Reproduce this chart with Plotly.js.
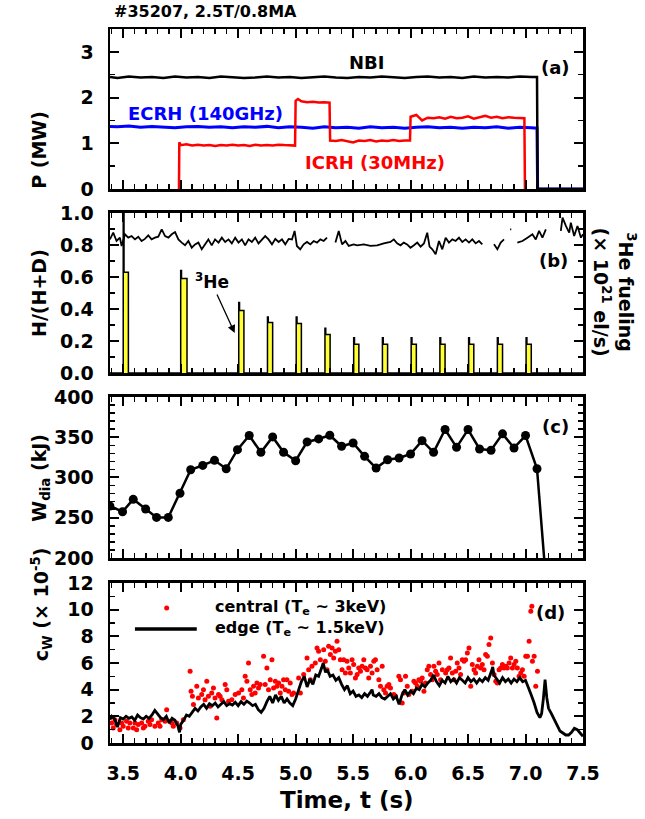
<!DOCTYPE html>
<html>
<head>
<meta charset="utf-8">
<script src="https://cdn.plot.ly/plotly-3.0.1.min.js"></script>
<style>
  html, body { margin: 0; padding: 0; background: #fff; }
  #chart { width: 645px; height: 819px; }
</style>
</head>
<body>
<div id="chart"></div>
<script>
// 4단 패널: (a) 가열 파워, (b) H/(H+D) + 3He 주입, (c) W_dia, (d) c_W
// 값은 그림에서 눈으로 읽은 것 (시간 s).

// ── (a) 가열 파워 (MW) ──
const nbiT = [3.385, 3.45, 3.55, 3.65, 3.75, 3.85, 3.95, 4.05, 4.15, 4.25,
              4.35, 4.45, 4.55, 4.65, 4.75, 4.85, 4.95, 5.05, 5.15, 5.25,
              5.35, 5.45, 5.55, 5.65, 5.75, 5.85, 5.95, 6.05, 6.15, 6.25,
              6.35, 6.45, 6.55, 6.65, 6.75, 6.85, 6.95, 7.05, 7.10, 7.105, 7.5];
const nbiP = [2.45, 2.43, 2.46, 2.44, 2.45, 2.43, 2.46, 2.44, 2.45, 2.43,
              2.46, 2.45, 2.43, 2.44, 2.46, 2.44, 2.45, 2.43, 2.45, 2.46,
              2.44, 2.43, 2.45, 2.44, 2.46, 2.45, 2.43, 2.45, 2.46, 2.44,
              2.45, 2.43, 2.46, 2.44, 2.45, 2.44, 2.46, 2.45, 2.45, 0, 0];

const ecrhT = [3.385, 3.45, 3.55, 3.65, 3.75, 3.85, 3.95, 4.05, 4.15, 4.25,
               4.35, 4.45, 4.55, 4.65, 4.75, 4.85, 4.95, 5.05, 5.15, 5.25,
               5.35, 5.45, 5.55, 5.65, 5.75, 5.85, 5.95, 6.05, 6.15, 6.25,
               6.35, 6.45, 6.55, 6.65, 6.75, 6.85, 6.95, 7.05, 7.10, 7.105, 7.5];
const ecrhP = [1.37, 1.36, 1.38, 1.35, 1.37, 1.36, 1.34, 1.36, 1.37, 1.35,
               1.36, 1.34, 1.36, 1.35, 1.37, 1.34, 1.36, 1.35, 1.33, 1.36,
               1.34, 1.35, 1.33, 1.36, 1.34, 1.35, 1.33, 1.35, 1.36, 1.34,
               1.35, 1.33, 1.35, 1.34, 1.36, 1.33, 1.35, 1.34, 1.33, 0, 0];

const icrhT = [3.985, 3.988, 4.00, 4.05, 4.10, 4.15, 4.20, 4.25, 4.30,
               4.35, 4.40, 4.45, 4.50, 4.55, 4.60, 4.65, 4.70, 4.75, 4.80,
               4.85, 4.90, 4.95, 4.995, 5.00, 5.02, 5.05, 5.10, 5.15, 5.20,
               5.25, 5.295, 5.30, 5.35, 5.40, 5.45, 5.50, 5.55, 5.60, 5.65,
               5.70, 5.75, 5.80, 5.85, 5.90, 5.95, 5.995, 6.00, 6.05, 6.10,
               6.15, 6.20, 6.25, 6.30, 6.35, 6.40, 6.45, 6.50, 6.55, 6.60,
               6.65, 6.70, 6.75, 6.80, 6.85, 6.90, 6.95, 6.99, 6.995];
const icrhP = [0, 1.02, 0.96, 0.98, 0.95, 0.97, 0.95, 0.96, 0.94,
               0.96, 0.95, 0.97, 0.95, 0.96, 0.94, 0.97, 0.95, 0.96, 0.95,
               0.97, 0.96, 0.95, 0.95, 1.93, 1.97, 1.92, 1.90, 1.91, 1.89,
               1.90, 1.89, 1.06, 1.05, 1.07, 1.04, 1.02, 1.06, 1.05, 1.07,
               1.04, 1.06, 1.05, 1.07, 1.05, 1.06, 1.06, 1.58, 1.62, 1.50,
               1.56, 1.55, 1.57, 1.54, 1.58, 1.55, 1.56, 1.59, 1.54, 1.57,
               1.60, 1.56, 1.58, 1.55, 1.57, 1.56, 1.55, 1.55, 0];

// ── (b) H/(H+D) (null = 데이터 끊김) ──
const hdT = [3.384, 3.413, 3.442, 3.471, 3.486, 3.515, 3.544, 3.573, 3.602, 3.631,
             3.660, 3.689, 3.718, 3.747, 3.776, 3.805, 3.835, 3.864, 3.893, 3.922,
             3.951, 3.980, 4.009, 4.038, 4.067, 4.096, 4.125, 4.154, 4.183, 4.212,
             4.241, 4.270, 4.299, 4.329, 4.358, 4.387, 4.416, 4.445, 4.474, 4.503,
             4.532, 4.561, 4.590, 4.619, 4.648, 4.677, 4.706, 4.735, 4.764, 4.794,
             4.823, 4.852, 4.881, 4.910, 4.939, 4.968, 4.991, 5.011, 5.040, 5.070,
             5.099, 5.128, 5.157, 5.186, 5.215, 5.244, 5.273, 5.300, 5.346, 5.375,
             5.404, 5.433, 5.462, 5.505, 5.535, 5.593, 5.651, 5.709, 5.767, 5.825,
             5.854, 5.883, 5.912, 5.941, 5.970, 5.999, 6.029, 6.058, 6.087, 6.116,
             6.145, 6.165, 6.189, 6.218, 6.247, 6.276, 6.305, 6.334, 6.363, 6.392,
             6.421, 6.450, 6.479, 6.508, 6.537, 6.566, 6.595, 6.624, 6.670, 6.726,
             6.755, 6.784, 6.813, 6.840, 6.866, 6.876, 6.900, 6.929, 6.973, 7.017,
             7.060, 7.089, 7.118, 7.147, 7.177, 7.230, 7.307, 7.322, 7.351, 7.380,
             7.394, 7.423, 7.452, 7.482, 7.500];
const hdV = [0.835, 0.877, 0.825, 0.846, 0.794, 0.867, 0.846, 0.856, 0.835, 0.852,
             0.825, 0.838, 0.860, 0.835, 0.846, 0.852, 0.898, 0.856, 0.846, 0.867,
             0.881, 0.835, 0.815, 0.798, 0.825, 0.783, 0.804, 0.815, 0.773, 0.804,
             0.835, 0.798, 0.835, 0.815, 0.846, 0.819, 0.835, 0.810, 0.846, 0.815,
             0.835, 0.798, 0.835, 0.819, 0.846, 0.810, 0.835, 0.856, 0.835, 0.804,
             0.838, 0.819, 0.835, 0.804, 0.838, 0.835, 0.888, 0.794, 0.773, 0.804,
             0.819, 0.804, 0.825, 0.815, 0.835, 0.825, 0.846, null, 0.815, 0.888,
             0.804, 0.825, 0.794, 0.804, 0.798, 0.804, 0.794, 0.798, 0.810, 0.819,
             0.835, 0.810, 0.798, 0.815, 0.804, 0.783, 0.798, 0.815, 0.790, 0.810,
             0.877, 0.790, 0.773, 0.742, 0.825, 0.773, 0.846, 0.815, 0.835, 0.825,
             0.846, 0.819, 0.835, 0.815, 0.835, 0.810, 0.825, 0.804, null, 0.804,
             0.773, 0.815, 0.835, null, 0.898, 0.898, null, 0.815, 0.825, 0.846,
             0.867, 0.835, 0.888, 0.846, 0.898, null, 0.888, 0.971, 0.919, 0.877,
             0.940, 0.856, 0.919, 0.846, 0.867];

// ── (b) 3He 주입 펄스: 시작/끝 시각, 시작 스파이크, 평탄부 ──
const fuelStart = [3.500, 4.000, 4.505, 4.755, 5.005, 5.255, 5.505, 5.755, 6.005, 6.255, 6.505, 6.755, 7.005];
const fuelEnd   = [3.545, 4.055, 4.550, 4.800, 5.050, 5.300, 5.550, 5.800, 6.050, 6.300, 6.550, 6.800, 7.050];
const fuelSpike = [1.00, 0.64, 0.44, 0.35, 0.35, 0.28, 0.22, 0.22, 0.22, 0.22, 0.22, 0.22, 0.22];
const fuelTop   = [0.63, 0.59, 0.39, 0.315, 0.31, 0.24, 0.18, 0.18, 0.18, 0.18, 0.18, 0.18, 0.18];

// ── (c) W_dia (kJ) ──
const wT = [3.384, 3.494, 3.587, 3.695, 3.790, 3.892, 3.994, 4.087, 4.192, 4.294,
            4.396, 4.494, 4.596, 4.698, 4.800, 4.895, 5.000, 5.100, 5.200, 5.297,
            5.400, 5.500, 5.600, 5.700, 5.800, 5.900, 6.000, 6.100, 6.200, 6.300,
            6.400, 6.500, 6.600, 6.700, 6.800, 6.900, 7.000, 7.100, 7.200];
const wV = [264.6, 257.5, 272.9, 260.8, 250.4, 250.4, 280.4, 309.6, 315.0, 321.3,
            310.8, 334.6, 352.1, 331.3, 350.4, 331.3, 320.8, 344.2, 347.9, 352.5,
            338.8, 342.9, 326.3, 311.7, 322.1, 324.2, 329.2, 345.8, 331.3, 359.6,
            337.5, 359.6, 335.4, 333.8, 354.2, 336.7, 352.1, 310.8, 132.0];

// ── (d) c_W (×1e-5): edge 라인 ──
const edgeT = [3.385, 3.400, 3.425, 3.450, 3.475, 3.500, 3.525, 3.550, 3.575, 3.600,
               3.625, 3.650, 3.675, 3.700, 3.725, 3.750, 3.775, 3.800, 3.825, 3.850,
               3.875, 3.900, 3.925, 3.950, 3.975, 3.990, 4.000, 4.025, 4.050, 4.075,
               4.100, 4.125, 4.150, 4.175, 4.200, 4.225, 4.250, 4.275, 4.300, 4.325,
               4.350, 4.375, 4.400, 4.425, 4.450, 4.475, 4.500, 4.525, 4.550, 4.575,
               4.600, 4.625, 4.650, 4.675, 4.700, 4.725, 4.750, 4.775, 4.800, 4.825,
               4.850, 4.875, 4.900, 4.925, 4.950, 4.975, 5.000, 5.025, 5.050, 5.075,
               5.100, 5.125, 5.150, 5.175, 5.200, 5.225, 5.240, 5.260, 5.275, 5.300,
               5.325, 5.350, 5.375, 5.400, 5.425, 5.450, 5.475, 5.500, 5.525, 5.550,
               5.575, 5.600, 5.625, 5.650, 5.665, 5.675, 5.700, 5.725, 5.750, 5.775,
               5.800, 5.825, 5.850, 5.875, 5.900, 5.925, 5.950, 5.975, 6.000, 6.025,
               6.050, 6.075, 6.100, 6.125, 6.150, 6.175, 6.200, 6.225, 6.250, 6.275,
               6.300, 6.325, 6.350, 6.375, 6.400, 6.425, 6.450, 6.475, 6.500, 6.525,
               6.550, 6.575, 6.600, 6.625, 6.650, 6.675, 6.700, 6.715, 6.725, 6.750,
               6.775, 6.800, 6.825, 6.850, 6.875, 6.900, 6.925, 6.950, 6.975, 7.000,
               7.025, 7.050, 7.075, 7.100, 7.125, 7.140, 7.155, 7.170, 7.185, 7.200,
               7.225, 7.250, 7.275, 7.300, 7.325, 7.350, 7.375, 7.400, 7.425, 7.450,
               7.475, 7.500];
const edgeV = [1.75, 2.00, 1.80, 1.20, 1.90, 1.80, 2.00, 1.85, 1.95, 1.70,
               2.10, 1.90, 1.80, 2.00, 1.85, 2.10, 2.45, 2.20, 1.90, 1.75,
               2.00, 1.50, 1.85, 1.70, 1.30, 0.80, 1.40, 1.70, 2.10, 2.00,
               2.30, 2.60, 2.40, 2.70, 2.90, 2.60, 2.95, 2.80, 3.00, 2.70,
               2.90, 3.10, 2.80, 2.95, 2.85, 3.05, 2.80, 3.10, 2.90, 3.15,
               3.00, 2.80, 2.90, 2.50, 2.30, 2.60, 3.10, 3.50, 3.00, 3.60,
               3.20, 3.50, 3.00, 3.30, 3.00, 2.80, 3.30, 4.00, 4.60, 5.00,
               4.20, 4.80, 4.40, 5.10, 5.00, 5.60, 6.00, 5.30, 5.50, 5.00,
               5.10, 4.70, 4.90, 4.40, 4.00, 4.30, 3.70, 3.90, 3.50, 3.60,
               3.40, 3.70, 3.50, 3.80, 4.00, 3.60, 3.50, 3.70, 3.40, 3.30,
               3.50, 3.70, 3.30, 3.50, 2.90, 3.60, 4.00, 3.60, 3.90, 3.70,
               4.10, 4.00, 4.40, 4.20, 4.50, 4.70, 5.10, 4.60, 4.30, 4.70,
               4.50, 5.00, 4.60, 4.80, 4.50, 4.90, 4.70, 4.50, 4.90, 4.60,
               4.80, 4.50, 4.80, 4.60, 4.90, 4.70, 5.30, 5.70, 5.10, 4.80,
               4.50, 4.90, 4.60, 4.80, 4.50, 4.80, 4.60, 4.90, 4.60, 4.70,
               4.20, 3.60, 3.00, 2.30, 1.90, 2.20, 3.30, 4.75, 3.40, 2.60,
               2.20, 1.80, 1.30, 0.90, 0.75, 0.60, 0.60, 0.80, 1.10, 1.00,
               0.75, 0.50];

// ── (d) central 점 ──
const centralT = [3.399, 3.413, 3.428, 3.442, 3.471, 3.486, 3.500, 3.529, 3.544, 3.558,
                  3.588, 3.602, 3.617, 3.631, 3.660, 3.675, 3.689, 3.718, 3.733, 3.747,
                  3.776, 3.805, 3.820, 3.835, 3.864, 3.878, 3.907, 3.922, 3.936, 3.965,
                  3.994, 4.023,
                  4.082, 4.090, 4.102, 4.111, 4.140, 4.154, 4.183, 4.198, 4.212, 4.227,
                  4.241, 4.256, 4.270, 4.285, 4.299, 4.314, 4.329, 4.343, 4.358, 4.387,
                  4.401, 4.416, 4.445, 4.474, 4.503,
                  4.532, 4.546, 4.561, 4.576, 4.590, 4.605, 4.619, 4.634, 4.648, 4.663,
                  4.677, 4.692, 4.721, 4.735, 4.750, 4.764, 4.779, 4.794, 4.808, 4.823,
                  4.837, 4.852, 4.866, 4.881, 4.895, 4.910, 4.924, 4.939, 4.953, 4.968,
                  4.982,
                  5.026, 5.041, 5.070, 5.099, 5.113, 5.128, 5.142, 5.171, 5.186, 5.200,
                  5.215, 5.244, 5.258, 5.273, 5.287, 5.302, 5.317, 5.331, 5.346, 5.360,
                  5.375, 5.389, 5.404, 5.418, 5.433, 5.447, 5.462,
                  5.476, 5.491, 5.505, 5.520, 5.535, 5.549, 5.564, 5.578, 5.593, 5.607,
                  5.622, 5.636, 5.651, 5.665, 5.680, 5.694, 5.709, 5.724, 5.738, 5.753,
                  5.767, 5.782, 5.796, 5.811, 5.825, 5.854, 5.869, 5.898, 5.912, 5.927,
                  5.941, 5.956, 5.971, 5.985, 6.014, 6.029, 6.043, 6.058, 6.072, 6.087,
                  6.101, 6.116, 6.130, 6.145, 6.159, 6.174, 6.188, 6.203, 6.218, 6.232,
                  6.247, 6.261, 6.276, 6.305, 6.319, 6.334, 6.348, 6.363, 6.377, 6.392,
                  6.406, 6.421, 6.435, 6.450, 6.465, 6.479, 6.494, 6.508, 6.523, 6.537,
                  6.552, 6.566, 6.581, 6.595, 6.610, 6.624, 6.639, 6.653, 6.668, 6.682,
                  6.697, 6.712, 6.726, 6.741, 6.755, 6.770, 6.784, 6.799, 6.813, 6.828,
                  6.842, 6.857, 6.871, 6.886, 6.900, 6.915, 6.929, 6.944, 6.959, 6.973,
                  6.988, 7.002, 7.017, 7.031, 7.046, 7.055, 7.060, 7.075, 7.089, 7.104];
const centralV = [1.50, 1.13, 1.75, 1.38, 1.00, 1.50, 1.25, 1.63, 1.13, 1.50,
                  1.13, 1.50, 1.00, 1.38, 1.50, 1.13, 1.25, 1.63, 1.38, 1.75,
                  1.25, 1.50, 1.25, 1.75, 1.63, 2.50, 1.63, 1.50, 1.25, 1.50,
                  1.13, 1.75,
                  5.38, 3.88, 3.50, 2.88, 4.25, 3.38, 3.63, 4.00, 3.25, 4.63,
                  3.50, 2.75, 3.75, 4.13, 3.38, 1.88, 3.63, 3.50, 3.25, 4.38,
                  4.00, 3.13, 3.25, 3.63, 3.75,
                  4.00, 3.38, 5.00, 4.63, 6.00, 4.00, 3.63, 4.25, 3.75, 4.50,
                  4.13, 4.38, 6.50, 4.38, 5.63, 4.00, 4.75, 6.25, 4.13, 4.63,
                  4.25, 4.50, 3.75, 4.25, 4.75, 4.00, 4.75, 3.88, 4.50, 3.63,
                  3.75,
                  4.88, 3.75, 5.13, 6.38, 5.50, 4.75, 5.75, 6.00, 7.13, 6.88,
                  6.25, 7.00, 6.13, 5.50, 7.25, 6.63, 7.13, 6.38, 6.88, 7.63,
                  7.00, 6.25, 5.50, 6.25, 5.25, 6.13, 5.63,
                  5.25, 6.25, 5.88, 4.88, 5.13, 5.63, 5.38, 5.75, 6.25, 5.63,
                  5.50, 4.88, 5.75, 5.25, 6.13, 6.25, 5.50, 4.75, 4.25, 5.75,
                  4.00, 3.75, 4.25, 4.38, 4.13, 3.63, 3.50, 5.00, 4.75, 3.00,
                  3.75, 5.00, 4.25, 3.63, 3.88, 4.63, 4.50, 4.25, 4.75, 4.63,
                  4.88, 3.88, 4.50, 5.50, 5.75, 5.13, 4.75, 5.75, 5.38, 5.13,
                  6.00, 4.75, 5.50, 5.25, 5.50, 5.63, 6.38, 5.25, 4.75, 5.38,
                  6.00, 5.63, 5.13, 6.25, 6.13, 6.25, 6.75, 7.13, 4.25, 5.88,
                  5.50, 5.25, 5.75, 6.25, 5.63, 5.88, 5.50, 6.63, 6.50, 7.38,
                  7.88, 6.00, 5.13, 4.63, 4.50, 5.50, 5.63, 5.88, 5.63, 5.75,
                  5.63, 6.00, 6.38, 5.63, 5.88, 6.13, 5.63, 5.00, 5.25, 5.50,
                  5.00, 6.50, 6.50, 7.63, 9.88, 10.25, 6.13, 6.50, 4.25, 5.38];

// ── 축 눈금 ──
const X_RANGE = [3.385, 7.5];
const X_DTICK = 0.5, X_MINOR = 0.1;

const FONT = 'DejaVu Sans, Liberation Sans, Arial, sans-serif';
const RED = '#ff0000', BLUE = '#0000ff', YELLOW = '#ffff33';

// 펄스 윤곽선 (시작 스파이크 → 평탄부 → 0)
function pulseOutline() {
  const x = [X_RANGE[0]], y = [0];
  fuelStart.forEach((s, i) => {
    x.push(s, s, s + 0.007, s + 0.007, fuelEnd[i], fuelEnd[i]);
    y.push(0, fuelSpike[i], fuelSpike[i], fuelTop[i], fuelTop[i], 0);
  });
  x.push(X_RANGE[1]); y.push(0);
  return { x, y };
}

const tickFont = { family: FONT, size: 19, color: '#000', weight: 'bold' };

function xAx(anchor, showLabels) {
  return {
    anchor, range: X_RANGE, tick0: 3.5, dtick: X_DTICK, tickformat: '.1f',
    showticklabels: showLabels, tickfont: tickFont, ticklabelstandoff: 12,
    ticks: 'inside', ticklen: 9, tickwidth: 2, tickcolor: '#000',
    minor: { dtick: X_MINOR, ticks: 'inside', ticklen: 5, tickwidth: 1.5, tickcolor: '#000', showgrid: false },
    showline: true, linewidth: 2.5, linecolor: '#000', mirror: 'ticks',
    showgrid: false, zeroline: false, fixedrange: true,
  };
}
function yAx(domain, range, dtick, minorDtick, fmt) {
  return {
    domain, range, tick0: range[0], dtick, tickformat: fmt,
    tickfont: tickFont, ticklabelstandoff: 10,
    ticks: 'inside', ticklen: 9, tickwidth: 2, tickcolor: '#000',
    minor: { dtick: minorDtick, ticks: 'inside', ticklen: 5, tickwidth: 1.5, tickcolor: '#000', showgrid: false },
    showline: true, linewidth: 2.5, linecolor: '#000', mirror: 'ticks',
    showgrid: false, zeroline: false, fixedrange: true,
  };
}

const pulse = pulseOutline();
const traces = [
  // (a)
  { x: ecrhT, y: ecrhP, xaxis: 'x', yaxis: 'y', mode: 'lines', line: { color: BLUE, width: 3 } },
  { x: icrhT, y: icrhP, xaxis: 'x', yaxis: 'y', mode: 'lines', line: { color: RED, width: 2.5 } },
  { x: nbiT, y: nbiP, xaxis: 'x', yaxis: 'y', mode: 'lines', line: { color: '#000', width: 2.5 } },
  // (b)
  { x: pulse.x, y: pulse.y, xaxis: 'x2', yaxis: 'y2', mode: 'lines', fill: 'tozeroy',
    fillcolor: YELLOW, line: { color: '#000', width: 1.5 } },
  { x: hdT, y: hdV, xaxis: 'x2', yaxis: 'y2', mode: 'lines', connectgaps: false,
    line: { color: '#000', width: 1.8 } },
  // (c)
  { x: wT, y: wV, xaxis: 'x3', yaxis: 'y3', mode: 'lines+markers',
    line: { color: '#000', width: 2.5 }, marker: { color: '#000', size: 9 } },
  // (d)
  { x: centralT, y: centralV, xaxis: 'x4', yaxis: 'y4', mode: 'markers',
    marker: { color: RED, size: 5 } },
  { x: edgeT, y: edgeV, xaxis: 'x4', yaxis: 'y4', mode: 'lines',
    line: { color: '#000', width: 2.8 } },
];

const ann = (xref, yref, x, y, text, size, color, extra) => Object.assign({
  xref, yref, x, y, text, showarrow: false,
  font: { family: FONT, size, color: color || '#000', weight: 'bold' },
}, extra || {});

const yTitleX = -0.178;
const annotations = [
  ann('paper', 'paper', 0.004, 1.024, '#35207, 2.5T/0.8MA', 16, '#000', { xanchor: 'left', yanchor: 'middle' }),
  // (a)
  ann('x', 'y', 5.62, 2.77, 'NBI', 18),
  ann('x', 'y', 7.26, 2.66, '(a)', 18),
  ann('x', 'y', 4.22, 1.66, 'ECRH (140GHz)', 18, BLUE),
  ann('x', 'y', 5.69, 0.59, 'ICRH (30MHz)', 18, RED),
  // (b)
  ann('x2', 'y2', 7.245, 0.70, '(b)', 18),
  ann('x2', 'y2', 4.27, 0.575, '<sup>3</sup>He', 17),
  { xref: 'x2', yref: 'y2', axref: 'x2', ayref: 'y2', x: 4.47, y: 0.25, ax: 4.31, ay: 0.50,
    text: '', showarrow: true, arrowhead: 2, arrowsize: 1.2, arrowwidth: 1.3, arrowcolor: '#000' },
  ann('paper', 'paper', 1.066, 0.632, '<sup>3</sup>He fueling<br>(× 10<sup>21</sup> el/s)', 19, '#000',
    { textangle: 90, xanchor: 'center', yanchor: 'middle' }),
  // (c)
  ann('x3', 'y3', 7.26, 363, '(c)', 18),
  // (d)
  ann('x4', 'y4', 7.22, 9.77, '(d)', 18),
  ann('x4', 'y4', 4.282, 10.13, 'central (T<sub>e</sub> ~ 3keV)', 16, '#000', { xanchor: 'left' }),
  ann('x4', 'y4', 4.282, 8.55, 'edge (T<sub>e</sub> ~ 1.5keV)', 16, '#000', { xanchor: 'left' }),
  // 축 제목
  ann('paper', 'paper', yTitleX, 0.888, 'P (MW)', 19, '#000', { textangle: -90 }),
  ann('paper', 'paper', yTitleX, 0.630, 'H/(H+D)', 19, '#000', { textangle: -90 }),
  ann('paper', 'paper', yTitleX, 0.372, 'W<sub>dia</sub> (kJ)', 19, '#000', { textangle: -90 }),
  ann('paper', 'paper', yTitleX, 0.112, 'c<sub>W</sub> (× 10<sup>-5</sup>)', 19, '#000', { textangle: -90 }),
  ann('paper', 'paper', 0.501, -0.080, 'Time, t (s)', 23, '#000', { yanchor: 'middle' }),
];

// (d) 범례 기호
const shapes = [
  { type: 'line', xref: 'x4', yref: 'y4', x0: 3.602, x1: 4.14, y0: 8.55, y1: 8.55,
    line: { color: '#000', width: 3.5 } },
  { type: 'circle', xref: 'x4', yref: 'y4', xsizemode: 'pixel', ysizemode: 'pixel',
    xanchor: 3.878, yanchor: 10.13, x0: -2.5, x1: 2.5, y0: -2.5, y1: 2.5,
    fillcolor: RED, line: { width: 0 } },
];

const layout = {
  width: 645, height: 819,
  margin: { l: 110, r: 62, t: 29, b: 76 },
  paper_bgcolor: '#fff', plot_bgcolor: '#fff',
  showlegend: false,
  font: { family: FONT, color: '#000' },
  xaxis: xAx('y', false),
  xaxis2: xAx('y2', false),
  xaxis3: xAx('y3', false),
  xaxis4: xAx('y4', true),
  yaxis: yAx([0.7759, 1.0], [0, 3.5], 1, 0.5, 'd'),
  yaxis2: yAx([0.5182, 0.7423], [0, 1.0], 0.2, 0.1, '.1f'),
  yaxis3: yAx([0.2591, 0.4846], [200, 400], 50, 10, 'd'),
  yaxis4: yAx([0, 0.2241], [0, 12], 2, 1, 'd'),
  annotations, shapes,
};

Plotly.newPlot('chart', traces, layout, { displayModeBar: false, staticPlot: true });
</script>
</body>
</html>
